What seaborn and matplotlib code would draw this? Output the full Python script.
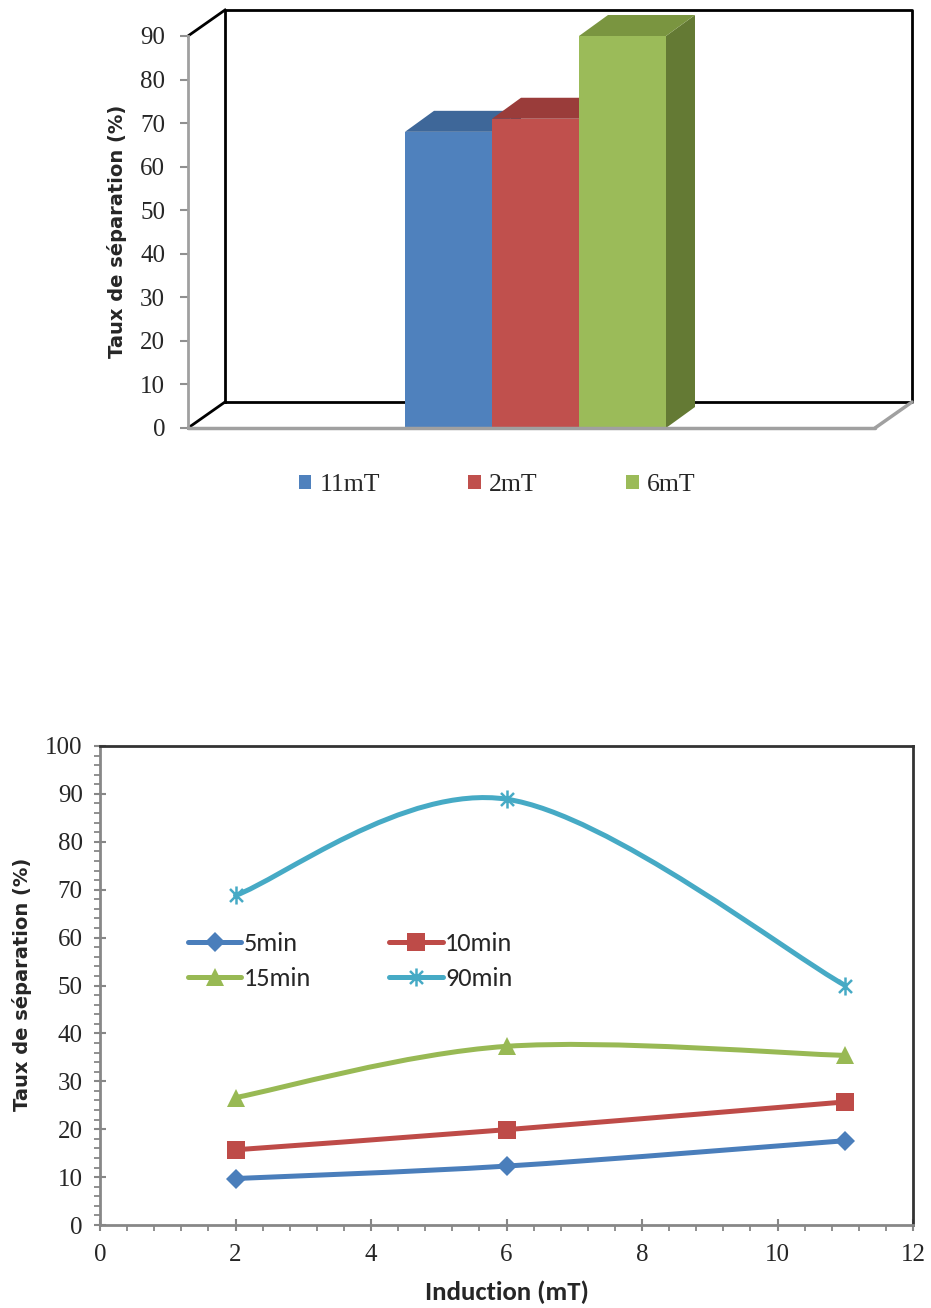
import matplotlib
matplotlib.use("Agg")
import matplotlib.pyplot as plt
import seaborn as sns
import numpy as np
import pandas as pd
from matplotlib.path import Path
from matplotlib.patches import PathPatch, Polygon, Patch
from matplotlib.lines import Line2D
from matplotlib.ticker import MultipleLocator
from matplotlib import font_manager as fm

# ---------------- data ----------------
bar_labels = ["11mT", "2mT", "6mT"]
bar_values = [68, 71, 90]
bar_colors = ["#4F81BD", "#C0504D", "#9BBB59"]
bar_top_colors = ["#3E6799", "#9A3C3A", "#7A9540"]
bar_side_colors = ["#365A86", "#873533", "#647A34"]

induction = [2, 6, 11]
series_names = ["5min", "10min", "15min", "90min"]
s_5min = [9.7, 12.3, 17.6]
s_10min = [15.7, 19.9, 25.7]
s_15min = [26.6, 37.3, 35.4]
s_90min = [68.8, 88.9, 50.0]
series_values = [s_5min, s_10min, s_15min, s_90min]
line_colors = ["#4A7EBB", "#BE4B48", "#98B954", "#46AAC5"]

ylabel_txt = "Taux de séparation (%)"
xlabel_txt = "Induction (mT)"

sns.set_style("white")
plt.rcParams["font.family"] = ["Liberation Serif", "DejaVu Serif"]

installed = set(f.name for f in fm.fontManager.ttflist)
calibri_like = "Carlito" if "Carlito" in installed else "Lato"
calibri_size_factor = 1.0 if calibri_like == "Lato" else 1.08

W, H = 931, 1308
fig = plt.figure(figsize=(W / 100, H / 100), dpi=100)
fig.patch.set_facecolor("white")


def fx(px):
    return px / W


def fy(py):
    return 1 - py / H


serif = "Liberation Serif"
tick_fs = 18

# ---------------- top chart (pseudo 3D bars) ----------------
ax1 = fig.add_axes([fx(188), fy(428), (875 - 188) / W, (428 - 36) / H])
df_bar = pd.DataFrame({"cat": bar_labels, "val": bar_values})
sns.barplot(data=df_bar, x="cat", y="val", hue="cat", palette=bar_colors,
            width=1.0, saturation=1, legend=False, linewidth=0, ax=ax1,
            order=bar_labels, hue_order=bar_labels)
px_per_unit = 87.0
xl = 0 - (448.5 - 188) / px_per_unit
xr = 2 + (875 - 622.5) / px_per_unit
ax1.set_xlim(xl, xr)
ax1.set_ylim(0, 90)
py_per_unit = (428 - 36) / 90.0

dxw, dyw = 37 / px_per_unit, 26 / py_per_unit     # wall depth
dxb, dyb = 29 / px_per_unit, 21 / py_per_unit     # bar depth

# walls
wall_kw = dict(color="black", lw=2.0, clip_on=False, zorder=0.5,
               solid_capstyle="projecting")
ax1.plot([xl + dxw, xr + dxw, xr + dxw, xl + dxw, xl + dxw],
         [dyw, dyw, 90 + dyw, 90 + dyw, dyw], **wall_kw)
ax1.plot([xl, xl + dxw], [90, 90 + dyw], **wall_kw)
ax1.plot([xl, xl + dxw], [0, dyw], **wall_kw)
ax1.plot([xl, xr], [0, 0], color="#A0A0A0", lw=2.5, clip_on=False, zorder=3)
ax1.plot([xr, xr + dxw], [0, dyw], color="#A0A0A0", lw=2.5, clip_on=False, zorder=3)

# 3D faces
for i, p in enumerate(ax1.patches):
    x0 = p.get_x()
    w = p.get_width()
    h = p.get_height()
    base = 1 + i * 0.1
    top = Polygon([(x0, h), (x0 + w, h), (x0 + w + dxb, h + dyb), (x0 + dxb, h + dyb)],
                  closed=True, facecolor=bar_top_colors[i], edgecolor="none",
                  zorder=base, clip_on=False)
    side = Polygon([(x0 + w, 0), (x0 + w + dxb, dyb), (x0 + w + dxb, h + dyb), (x0 + w, h)],
                   closed=True, facecolor=bar_side_colors[i], edgecolor="none",
                   zorder=base, clip_on=False)
    ax1.add_patch(side)
    ax1.add_patch(top)
    p.set_zorder(base + 0.05)

for s in ["top", "right", "bottom"]:
    ax1.spines[s].set_visible(False)
ax1.spines["left"].set_color("#A0A0A0")
ax1.spines["left"].set_linewidth(2.0)
ax1.set_yticks(np.arange(0, 91, 10))
ax1.set_xticks([])
ax1.tick_params(axis="y", direction="out", length=6, width=1.5, color="#909090",
                pad=10.5, labelsize=tick_fs, left=True, labelfontfamily=serif)
ax1.set_xlabel("")
ax1.set_ylabel(ylabel_txt, fontsize=14.0, fontweight="bold", family="DejaVu Sans",
               va="center")
ax1.yaxis.set_label_coords((117 - 188) / 687, (428 - 231) / 392)
ax1.set_facecolor("none")

handles = [Patch(facecolor=c, edgecolor="none") for c in bar_colors]
fig.legend(handles, bar_labels, loc="center", bbox_to_anchor=(fx(497), fy(485)),
           ncol=3, frameon=False, prop={"family": serif, "size": 18.5},
           handlelength=0.5, handleheight=0.5, handletextpad=0.3,
           columnspacing=3.45, borderpad=0)

# ---------------- bottom chart (smoothed lines) ----------------
ax2 = fig.add_axes([fx(100), fy(1225), (913 - 100) / W, (1225 - 746) / H])
ax2.set_xlim(0, 12)
ax2.set_ylim(0, 100)


def smooth_path(xs, ys):
    pts = list(zip(xs, ys))
    n = len(pts)
    verts = [pts[0]]
    codes = [Path.MOVETO]
    for i in range(n - 1):
        p0 = pts[i - 1] if i > 0 else pts[i]
        p1 = pts[i]
        p2 = pts[i + 1]
        p3 = pts[i + 2] if i + 2 < n else pts[i + 1]
        c1 = (p1[0] + (p2[0] - p0[0]) / 6, p1[1] + (p2[1] - p0[1]) / 6)
        c2 = (p2[0] - (p3[0] - p1[0]) / 6, p2[1] - (p3[1] - p1[1]) / 6)
        verts += [c1, c2, p2]
        codes += [Path.CURVE4] * 3
    return Path(verts, codes)


asterisk = Path([(0, -1), (0, 1), (-0.72, -0.72), (0.72, 0.72), (-0.72, 0.72), (0.72, -0.72)],
                [Path.MOVETO, Path.LINETO, Path.MOVETO, Path.LINETO, Path.MOVETO, Path.LINETO])
markers = ["D", "s", "^", asterisk]
msizes = [10, 13, 13, 13]

for name, vals, col, mk, ms in zip(series_names, series_values, line_colors, markers, msizes):
    ax2.add_patch(PathPatch(smooth_path(induction, vals), facecolor="none", edgecolor=col,
                            lw=3.6, capstyle="round", joinstyle="round", zorder=2))
    dfl = pd.DataFrame({"x": induction, "y": vals})
    if mk is asterisk:
        sns.lineplot(data=dfl, x="x", y="y", ax=ax2, color=col, linestyle="none",
                     marker=mk, markersize=ms, markeredgewidth=1.8,
                     markeredgecolor=col, zorder=3)
    else:
        sns.lineplot(data=dfl, x="x", y="y", ax=ax2, color=col, linestyle="none",
                     marker=mk, markersize=ms, markeredgewidth=0,
                     markerfacecolor=col, zorder=3)

ax2.set_xlim(0, 12)
ax2.set_ylim(0, 100)
ax2.xaxis.set_major_locator(MultipleLocator(2))
ax2.xaxis.set_minor_locator(MultipleLocator(0.4))
ax2.yaxis.set_major_locator(MultipleLocator(10))
ax2.yaxis.set_minor_locator(MultipleLocator(2))
for s in ["top", "right"]:
    ax2.spines[s].set_color("#333333")
    ax2.spines[s].set_linewidth(2.0)
for s in ["left", "bottom"]:
    ax2.spines[s].set_color("#878787")
    ax2.spines[s].set_linewidth(2.0)
ax2.tick_params(axis="both", which="major", direction="inout", length=9, width=1.5,
                color="#878787", labelsize=tick_fs, left=True, bottom=True,
                labelfontfamily=serif)
ax2.tick_params(axis="x", which="major", pad=9)
ax2.tick_params(axis="y", which="major", pad=8)
ax2.tick_params(axis="both", which="minor", direction="out", length=4, width=1.3,
                color="#878787", left=True, bottom=True)
ax2.set_ylabel(ylabel_txt, fontsize=14.0, fontweight="bold", family="DejaVu Sans",
               va="center")
ax2.yaxis.set_label_coords((22 - 100) / 813, (1225 - 984) / 479)
ax2.set_xlabel(xlabel_txt, fontsize=17.8 * calibri_size_factor, fontweight="bold",
               family=calibri_like, va="center")
ax2.xaxis.set_label_coords((507 - 100) / 813, (1225 - 1292) / 479)

leg_handles = [Line2D([], [], color=c, lw=3.6, marker=m, markersize=ms,
                      markerfacecolor=c, markeredgecolor=c,
                      markeredgewidth=(1.8 if m is asterisk else 0))
               for c, m, ms in zip(line_colors, markers, msizes)]
order = [0, 2, 1, 3]   # row-wise: 5min, 10min / 15min, 90min
ax2.legend([leg_handles[i] for i in order], [series_names[i] for i in order],
           loc="center", bbox_to_anchor=((350 - 100) / 813, (1225 - 961) / 479),
           ncol=2, frameon=False,
           prop={"family": calibri_like, "size": 17.5 * calibri_size_factor},
           handlelength=2.05, handletextpad=0.1, columnspacing=2.95,
           labelspacing=0.45, borderpad=0)

fig.savefig("out.png", dpi=100, facecolor="white")
